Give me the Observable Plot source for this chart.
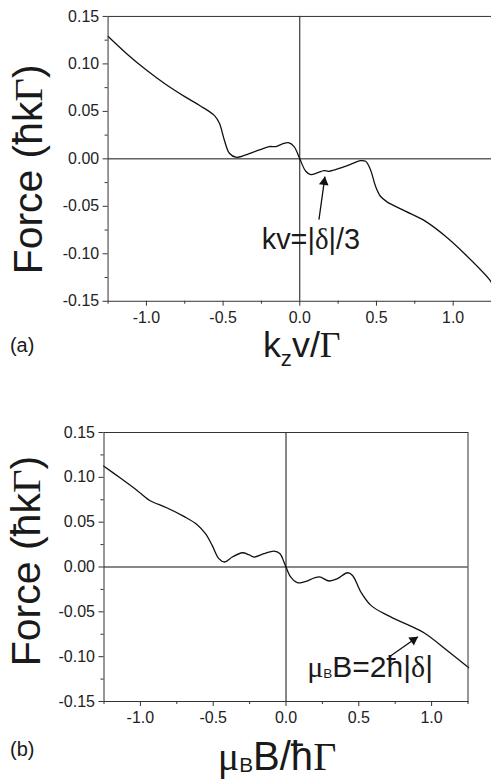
<!DOCTYPE html>
<html><head><meta charset="utf-8">
<script src="https://cdn.jsdelivr.net/npm/d3@7"></script>
<script src="https://cdn.jsdelivr.net/npm/@observablehq/plot@0.6"></script>
<style>
html,body{margin:0;padding:0;background:#fff;overflow:hidden;}
#wrap{position:relative;width:491px;height:779px;overflow:hidden;background:#fff;}
#wrap svg{display:block;}
</style></head><body><div id="wrap"><div id="a"></div><div id="b"></div></div>
<script>
// ---- data: panel (a) force vs k_z v / Gamma
const kzv = [-1.249,-1.125,-1.0,-0.875,-0.75,-0.65,-0.556,-0.524,-0.492,-0.459,-0.416,-0.351,-0.264,-0.199,-0.156,-0.113,-0.074,-0.037,0,0.039,0.071,0.114,0.158,0.190,0.277,0.342,0.396,0.429,0.461,0.494,0.526,0.569,0.688,0.818,0.948,1.078,1.236,1.25];
const forceA = [0.1288,0.1102,0.0935,0.0785,0.0655,0.0560,0.0455,0.0374,0.0199,0.0059,0.0017,0.0042,0.0094,0.0129,0.0129,0.0157,0.0171,0.0129,0,-0.0131,-0.0166,-0.0148,-0.0124,-0.0131,-0.0089,-0.0051,-0.0019,-0.0026,-0.0114,-0.0289,-0.0394,-0.0453,-0.0551,-0.0656,-0.0813,-0.1005,-0.127,-0.1305];
// ---- data: panel (b) force vs mu_B B / hbar Gamma
const muB = [-1.253,-1.138,-1.023,-0.977,-0.936,-0.816,-0.702,-0.610,-0.553,-0.507,-0.461,-0.422,-0.369,-0.300,-0.255,-0.220,-0.151,-0.083,-0.041,-0.014,0,0.032,0.078,0.124,0.227,0.296,0.354,0.422,0.457,0.514,0.583,0.698,0.835,0.950,1.111,1.255];
const forceB = [0.1126,0.0992,0.0854,0.0792,0.0742,0.0658,0.0564,0.0472,0.0371,0.0241,0.0093,0.0056,0.0111,0.0159,0.0137,0.0111,0.0148,0.0178,0.0148,0.0056,0,-0.0111,-0.0175,-0.0167,-0.0111,-0.0156,-0.0130,-0.0064,-0.0094,-0.0279,-0.0428,-0.0540,-0.0643,-0.0736,-0.0936,-0.1123];
// ---- ticks
const xTicks = [-1, -0.5, 0, 0.5, 1];
const xTickLabels = ["-1.0", "-0.5", "0.0", "0.5", "1.0"];
const xMinor = [-1.25, -0.75, -0.25, 0.25, 0.75, 1.25];
const yTicks = [-0.15, -0.1, -0.05, 0, 0.05, 0.1, 0.15];
const yTickLabels = ["-0.15", "-0.10", "-0.05", "0.00", "0.05", "0.10", "0.15"];
const yMinor = [-0.125, -0.075, -0.025, 0.025, 0.075, 0.125];
// ---- annotations (data coordinates)
const arrowA = {x1: 0.125, y1: -0.064, x2: 0.164, y2: -0.0188};
const noteA = {x: -0.245, y: -0.095};
const arrowB = {x1: 0.72, y1: -0.099, x2: 0.906, y2: -0.0777};
const noteB = {x: 0.149, y: -0.1235};

const SANS = "'Liberation Sans', Arial, Helvetica, sans-serif";
const SERIF = "'Liberation Serif', 'Times New Roman', serif";
const INK = "#111";

const xFmt = new Map(xTicks.map((d, i) => [d, xTickLabels[i]]));
const yFmt = new Map(yTicks.map((d, i) => [d, yTickLabels[i]]));

function panel(xs, ys, arrow, rot, hdx, hdy, opts) {
  const data = xs.map((x, i) => ({x, y: ys[i]}));
  return Plot.plot({
    width: opts.width, height: opts.height,
    marginLeft: opts.ml, marginRight: opts.mr, marginTop: opts.mt, marginBottom: opts.mb,
    style: {fontFamily: SANS, fontSize: "16px", color: "#222", background: "white", overflow: "visible"},
    x: {domain: [-1.25, 1.25]},
    y: {domain: [-0.15, 0.15]},
    marks: [
      Plot.ruleX([0], {stroke: INK, strokeWidth: 1}),
      Plot.ruleY([0], {stroke: INK, strokeWidth: 1}),
      Plot.line(data, {x: "x", y: "y", curve: "catmull-rom", stroke: INK, strokeWidth: 1.3}),
      Plot.link([arrow], {x1: "x1", y1: "y1", x2: "x2", y2: "y2", stroke: INK, strokeWidth: 1.3}),
      Plot.dot([arrow], {x: "x2", y: "y2", symbol: "triangle", r: 3.6, fill: INK, stroke: "none", rotate: rot, dx: hdx, dy: hdy}),
      Plot.frame({stroke: "#333", strokeWidth: 1}),
      Plot.axisX(xTicks, {tickSize: 5, tickPadding: 5, tickFormat: d => xFmt.get(d), label: null, stroke: "#333", fill: "#222"}),
      Plot.axisX(xMinor, {tickSize: 3, tickFormat: () => "", label: null, stroke: "#333"}),
      Plot.axisY(yTicks, {tickSize: 5, tickPadding: 4, tickFormat: d => yFmt.get(d), label: null, stroke: "#333", fill: "#222"}),
      Plot.axisY(yMinor, {tickSize: 3, tickFormat: () => "", label: null, stroke: "#333"})
    ]
  });
}

function rich(svg, cfg, parts) {
  const {x, y, size, anchor = "start", rotate = 0} = cfg;
  const t = d3.select(svg).append("text")
    .attr("transform", `translate(${x},${y}) rotate(${rotate})`)
    .attr("text-anchor", anchor)
    .attr("font-family", SANS).attr("font-size", size).attr("fill", "#1a1a1a");
  let shift = 0;
  for (const p of parts) {
    const s = t.append("tspan").text(p.t);
    if (p.serif) s.attr("font-family", SERIF);
    const target = p.sub ? size * (p.shift ?? 0.25) : 0;
    const dy = target - shift; shift = target;
    if (dy) s.attr("dy", dy);
    if (p.sub) s.attr("font-size", size * (p.scale ?? 0.6));
  }
  return t;
}

// panel (a)
const A = panel(kzv, forceA, arrowA, 8, -0.8, 5.4, {width: 493, height: 390, ml: 108, mr: 0, mt: 16, mb: 88});
document.getElementById("a").appendChild(A);
{
  const sx = A.scale("x"), sy = A.scale("y");
  rich(A, {x: sx.apply(noteA.x), y: sy.apply(noteA.y), size: 29},
    [{t: "kv=|"}, {t: "δ", serif: true}, {t: "|/3"}]);
  rich(A, {x: 42, y: 170, size: 41, anchor: "middle", rotate: -90},
    [{t: "Force ("}, {t: "ħ"}, {t: "k"}, {t: "Γ", serif: true}, {t: ")"}]);
  rich(A, {x: 303, y: 358, size: 36, anchor: "middle"},
    [{t: "k"}, {t: "z", sub: true, shift: 0.26, scale: 0.62}, {t: "v/"}, {t: "Γ", serif: true}]);
  rich(A, {x: 10, y: 353, size: 20}, [{t: "(a)"}]);
}

// panel (b)
const B = panel(muB, forceB, arrowB, 55, -4.5, 3.2, {width: 491, height: 389, ml: 103.5, mr: 23.5, mt: 44, mb: 76});
document.getElementById("b").appendChild(B);
{
  const sx = B.scale("x"), sy = B.scale("y");
  rich(B, {x: sx.apply(noteB.x), y: sy.apply(noteB.y), size: 30},
    [{t: "μ", serif: true}, {t: "B", sub: true, shift: 0.04, scale: 0.45}, {t: "B=2ħ|"}, {t: "δ", serif: true}, {t: "|"}]);
  rich(B, {x: 40, y: 173, size: 41, anchor: "middle", rotate: -90},
    [{t: "Force ("}, {t: "ħ"}, {t: "k"}, {t: "Γ", serif: true}, {t: ")"}]);
  rich(B, {x: 277, y: 382, size: 40, anchor: "middle"},
    [{t: "μ", serif: true}, {t: "B", sub: true, shift: 0.06, scale: 0.52}, {t: "B/ħ"}, {t: "Γ", serif: true}]);
  rich(B, {x: 10, y: 368, size: 20}, [{t: "(b)"}]);
}
</script></body></html>
